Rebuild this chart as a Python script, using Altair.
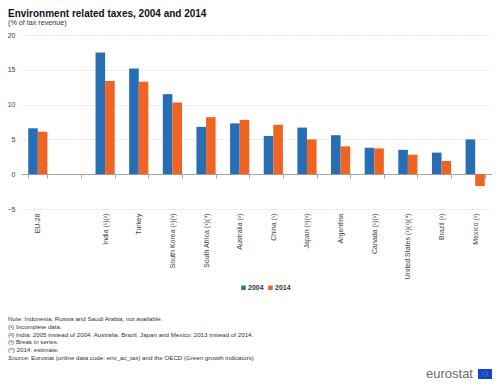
import altair as alt
import pandas as pd

FONT = "Liberation Sans, Arial, sans-serif"

countries = ["EU-28", " ", "India (¹)(²)", "Turkey", "South Korea (¹)(³)",
             "South Africa (¹)(⁴)", "Australia (²)", "China (¹)", "Japan (¹)(²)",
             "Argentina", "Canada (¹)(³)", "United States (¹)(³)(⁴)", "Brazil (²)",
             "Mexico (²)"]
v2004 = [6.6, None, 17.5, 15.2, 11.5, 6.8, 7.3, 5.5, 6.7, 5.6, 3.8, 3.5, 3.1, 5.0]
v2014 = [6.1, None, 13.4, 13.3, 10.3, 8.2, 7.8, 7.1, 5.0, 4.0, 3.7, 2.8, 1.9, -1.7]
years = ["2004", "2014"]
colors = ["#286EB4", "#F06423"]
y_ticks = [-5, 0, 5, 10, 15, 20]

title_text = "Environment related taxes, 2004 and 2014"
subtitle_text = "(% of tax revenue)"
notes = [
    "Note: Indonesia, Russia and Saudi Arabia, not available.",
    "(¹) Incomplete data.",
    "(²) India: 2005 instead of 2004. Australia, Brazil, Japan and Mexico: 2013 instead of 2014.",
    "(³) Break in series.",
    "(⁴) 2014: estimate.",
]
source_label = "Source:"
source_text = "Eurostat (online data code: env_ac_tax) and the OECD (Green growth indicators)"

rows = []
for c, a, b in zip(countries, v2004, v2014):
    if a is not None:
        rows.append({"country": c, "year": years[0], "value": a})
    if b is not None:
        rows.append({"country": c, "year": years[1], "value": b})
df = pd.DataFrame(rows)

W, H = 471, 174

bars = alt.Chart(df).mark_bar().encode(
    x=alt.X("country:N", sort=countries,
            scale=alt.Scale(domain=countries, paddingInner=0.43, paddingOuter=0.215),
            axis=alt.Axis(title=None, labelAngle=-90, labelFontSize=7, labelFont=FONT,
                          labelColor="#404040", domainColor="#a6a6a6", tickColor="#a6a6a6",
                          tickSize=4, tickBand="extent", offset=-35, labelPadding=35,
                          grid=False, labelLimit=200)),
    xOffset=alt.XOffset("year:N", scale=alt.Scale(domain=years, paddingInner=0, paddingOuter=0)),
    y=alt.Y("value:Q", scale=alt.Scale(domain=[-5, 20], nice=False),
            axis=alt.Axis(title=None, values=y_ticks, domain=False, ticks=False,
                          labelFontSize=7, labelFont=FONT, labelColor="#404040",
                          labelPadding=6, gridColor="#d0d0d0", gridDash=[1, 2],
                          gridWidth=1)),
    color=alt.Color("year:N", scale=alt.Scale(domain=years, range=colors),
                    legend=alt.Legend(title=None, orient="none", legendX=219, legendY=249,
                                      direction="horizontal", symbolType="square",
                                      symbolSize=20, symbolStrokeWidth=0, labelFontSize=7,
                                      labelFontWeight="bold", labelFont=FONT,
                                      labelColor="#333333", labelOffset=1,
                                      columnPadding=3)),
)

one = alt.Data(values=[{}])


def txt(text, x, y, size=7, weight="normal", style="normal", color="#333333",
        baseline="middle"):
    return alt.Chart(one).mark_text(
        align="left", baseline=baseline, font=FONT, fontSize=size,
        fontWeight=weight, fontStyle=style, color=color,
    ).encode(x=alt.value(x), y=alt.value(y), text=alt.value(text))


layers = [bars,
          txt(title_text, -13, -21.5, size=10, weight="bold", color="#111111"),
          txt(subtitle_text, -13, -12.5, size=7.2)]
note_y = [284.3, 292.0, 299.7, 307.4, 315.2]
for t, yy in zip(notes, note_y):
    layers.append(txt(t, -13, yy, size=6.2))
layers.append(txt(source_label, -13, 323, size=6.2, style="italic"))
layers.append(txt(source_text, 10, 323, size=6.2))
layers.append(txt("eurostat", 405, 343, size=13, color="#6b6b6b", baseline="alphabetic"))

flag = alt.Chart(one).mark_rect(color="#0E47CB").encode(
    x=alt.value(457), x2=alt.value(471), y=alt.value(334), y2=alt.value(344))
stars = alt.Chart(one).mark_point(shape="circle", filled=False, color="#FFDD00",
                                  strokeWidth=0.8, strokeDash=[1, 1], size=22).encode(
    x=alt.value(464), y=alt.value(339))
layers += [flag, stars]

chart = alt.layer(*layers).properties(
    width=W, height=H,
    autosize=alt.AutoSizeParams(type="none"),
    padding={"left": 13, "top": 27, "right": 0, "bottom": 172},
).configure_view(stroke=None)

chart.save("out.html", embed_options={"renderer": "svg", "actions": False})
